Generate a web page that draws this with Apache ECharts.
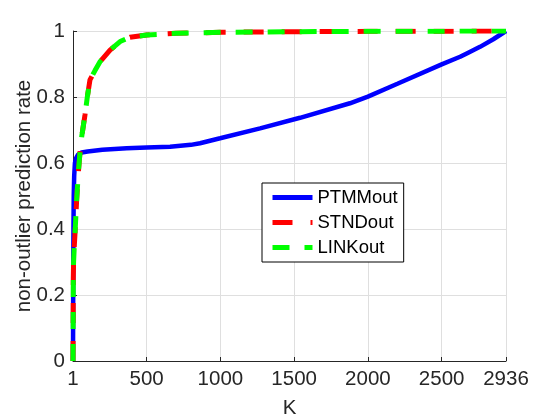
<!DOCTYPE html>
<html>
<head>
<meta charset="utf-8">
<script src="https://cdn.jsdelivr.net/npm/echarts@6/dist/echarts.min.js"></script>
<style>
  html, body {margin: 0; padding: 0; background: #fff;}
  #chart {width: 560px; height: 420px;}
</style>
</head>
<body>
<div id="chart"></div>
<script>
// tick positions on K axis
const xTicks = [1, 500, 1000, 1500, 2000, 2500, 2936]

// PTMMout curve [K, rate]
const ptmmK = [1, 2, 3, 4, 6, 9, 14, 22, 35, 60, 100, 200, 365, 500, 659, 800, 862, 998, 1269, 1540, 1878, 2000, 2200, 2500, 2625, 2670, 2760, 2850, 2936]
const ptmmRate = [0, 0.15, 0.3, 0.4, 0.5, 0.56, 0.6, 0.615, 0.625, 0.632, 0.635, 0.64, 0.645, 0.647, 0.649, 0.655, 0.66, 0.675, 0.705, 0.737, 0.781, 0.801, 0.84, 0.899, 0.922, 0.932, 0.952, 0.975, 1]

// STNDout / LINKout curves (almost the same)
const stndK = [1, 2, 3, 5, 10, 15, 26, 37, 48, 60, 82, 98, 116, 150, 184, 252, 320, 387, 500, 700, 1000, 1500, 2000, 2936]
const stndRate = [0, 0.1, 0.25, 0.3, 0.35, 0.39, 0.49, 0.57, 0.63, 0.68, 0.745, 0.8, 0.852, 0.88, 0.907, 0.942, 0.968, 0.981, 0.988, 0.993, 0.996, 0.998, 0.999, 1]
const linkK = [1, 2, 3, 5, 10, 15, 26, 37, 48, 60, 82, 98, 116, 150, 184, 252, 320, 387, 500, 700, 1000, 1500, 2000, 2936]
const linkRate = [0, 0.1, 0.25, 0.3, 0.35, 0.39, 0.49, 0.57, 0.63, 0.68, 0.745, 0.8, 0.852, 0.88, 0.907, 0.942, 0.968, 0.981, 0.988, 0.993, 0.996, 0.998, 0.999, 1]

const zip = (a, b) => a.map((v, i) => [v, b[i]])
const font = 'Liberation Sans, Arial, Helvetica, sans-serif'

const chart = echarts.init(document.getElementById('chart'))
chart.setOption({
    animation: false,
    textStyle: {fontFamily: font},
    grid: {left: 73, right: 54, top: 31, bottom: 59, outerBoundsMode: 'none'},
    legend: {
        left: 262,
        top: 183,
        orient: 'vertical',
        backgroundColor: '#fff',
        borderColor: '#000',
        borderWidth: 1,
        borderRadius: 0,
        padding: [5, 6, 5, 8],
        itemWidth: 40,
        itemHeight: 14,
        itemGap: 6,
        itemStyle: {opacity: 0},
        textStyle: {fontFamily: font, fontSize: 18.5, color: '#000'},
        data: [
            {name: 'PTMMout', lineStyle: {width: 5}},
            {name: 'STNDout', lineStyle: {width: 5}},
            {name: 'LINKout', lineStyle: {width: 5}}
        ]
    },
    xAxis: {
        type: 'value',
        min: 1,
        max: 2936,
        name: 'K',
        nameLocation: 'middle',
        nameGap: 37,
        nameMoveOverlap: false,
        nameTextStyle: {fontSize: 20.5, color: '#262626'},
        axisLine: {lineStyle: {color: '#262626', width: 1}},
        axisTick: {inside: true, length: 4, customValues: xTicks, lineStyle: {color: '#262626'}},
        axisLabel: {customValues: xTicks, fontSize: 20.5, color: '#262626', margin: 8, formatter: v => String(v)},
        splitLine: {show: true, lineStyle: {color: '#dfdfdf'}}
    },
    yAxis: {
        type: 'value',
        min: 0,
        max: 1,
        interval: 0.2,
        name: 'non-outlier prediction rate',
        nameLocation: 'middle',
        nameGap: 38,
        nameMoveOverlap: false,
        nameTextStyle: {fontSize: 20.5, color: '#262626'},
        axisLine: {show: true, lineStyle: {color: '#262626', width: 1}},
        axisTick: {show: true, inside: true, length: 4, lineStyle: {color: '#262626'}},
        axisLabel: {fontSize: 20.5, color: '#262626', margin: 8},
        splitLine: {show: true, lineStyle: {color: '#dfdfdf'}}
    },
    series: [
        {
            name: 'PTMMout',
            type: 'line',
            symbol: 'none',
            data: zip(ptmmK, ptmmRate),
            itemStyle: {color: '#0000ff'},
            lineStyle: {color: '#0000ff', width: 4.5}
        },
        {
            name: 'STNDout',
            type: 'line',
            symbol: 'none',
            data: zip(stndK, stndRate),
            itemStyle: {color: '#ff0000'},
            lineStyle: {color: '#ff0000', width: 5, type: [20, 18]}
        },
        {
            name: 'LINKout',
            type: 'line',
            symbol: 'none',
            data: zip(linkK, linkRate),
            itemStyle: {color: '#00ff00'},
            lineStyle: {color: '#00ff00', width: 5, type: [17, 15]}
        }
    ]
})
</script>
</body>
</html>
